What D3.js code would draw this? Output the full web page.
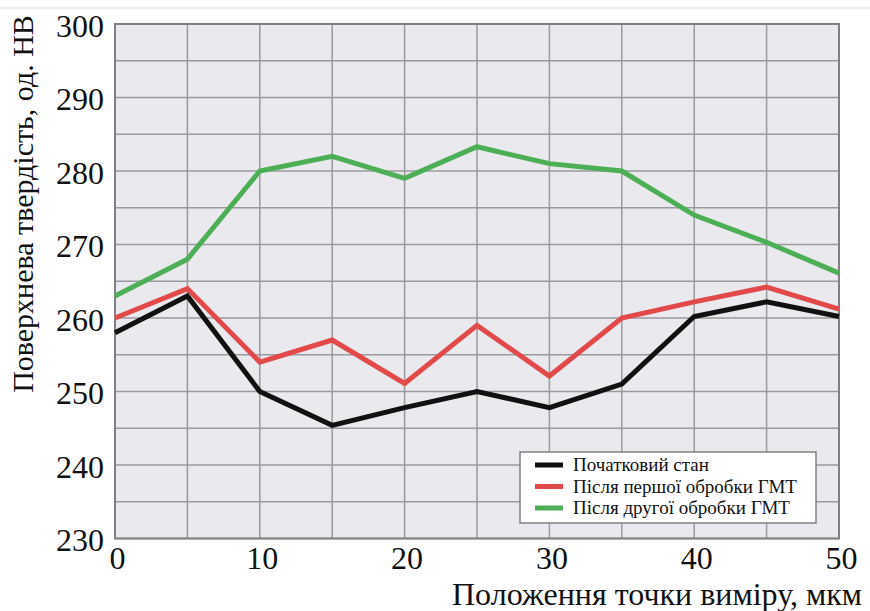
<!DOCTYPE html>
<html><head><meta charset="utf-8">
<script src="https://cdn.jsdelivr.net/npm/d3@7"></script>
<style>body{margin:0;background:#fff;} svg text{font-family:"Liberation Serif","Times New Roman",serif !important;}</style>
</head><body>
<svg id="c" width="870" height="611"></svg>
<script>
const positions = [0,5,10,15,20,25,30,35,40,45,50];
const initial = [258,263,250,245.4,247.8,250,247.8,251,260.2,262.2,260.2];
const afterFirst = [260,264,254,257,251.1,259,252.1,260,262.2,264.2,261.2];
const afterSecond = [263,268,280,282,279,283.3,281,280,274,270.3,266.1];
const seriesNames = ["Початковий стан","Після першої обробки ГМТ","Після другої обробки ГМТ"];
const seriesColors = ["#111111","#e24a4a","#4caf55"];
const xTicks = [0,10,20,30,40,50];
const yTicks = [230,240,250,260,270,280,290,300];

const svg = d3.select("#c");
const L=115, R=839, T=24, B=538.5;
const x = d3.scaleLinear().domain([0,50]).range([L,R]);
const y = d3.scaleLinear().domain([230,300]).range([B,T]);

svg.append("line").attr("x1",0).attr("x2",870).attr("y1",8).attr("y2",8).attr("stroke","#ececec").attr("stroke-width",2);

svg.append("rect").attr("x",L).attr("y",T).attr("width",R-L).attr("height",B-T).attr("fill","#e9e9ee");

const g = svg.append("g");
d3.range(0,51,5).forEach(v=>{
  g.append("line").attr("x1",x(v)).attr("x2",x(v)).attr("y1",T).attr("y2",B).attr("stroke","#9a9a9e").attr("stroke-width",1.5);
});
d3.range(230,301,5).forEach(v=>{
  g.append("line").attr("x1",L).attr("x2",R).attr("y1",y(v)).attr("y2",y(v)).attr("stroke","#9a9a9e").attr("stroke-width",1.5);
});
svg.append("rect").attr("x",L).attr("y",T).attr("width",R-L).attr("height",B-T).attr("fill","none").attr("stroke","#808084").attr("stroke-width",2);

const xAxis = svg.append("g").attr("transform",`translate(2,${B})`)
  .call(d3.axisBottom(x).tickValues(xTicks).tickSize(0).tickPadding(8));
xAxis.select(".domain").remove();
xAxis.selectAll("text").attr("font-size",32).attr("fill","#111");

const yAxis = svg.append("g").attr("transform",`translate(${L},2)`)
  .call(d3.axisLeft(y).tickValues(yTicks).tickSize(0).tickPadding(11));
yAxis.select(".domain").remove();
yAxis.selectAll("text").attr("font-size",32).attr("fill","#111");

const line = d3.line().x((d,i)=>x(positions[i])).y(d=>y(d));
const data = [initial, afterFirst, afterSecond];
[2,1,0].forEach(k=>{
  svg.append("path").datum(data[k]).attr("d",line).attr("fill","none")
    .attr("stroke",seriesColors[k]).attr("stroke-width",5).attr("stroke-linejoin","miter");
});

svg.append("text").attr("x",862).attr("y",605).attr("text-anchor","end").attr("font-size",32).attr("fill","#111")
  .text("Положення точки виміру, мкм");
svg.append("text").attr("transform","translate(33,204) rotate(-90)").attr("text-anchor","middle").attr("font-size",30).attr("fill","#111")
  .text("Поверхнева твердість, од. HB");

const lg = svg.append("g");
lg.append("rect").attr("x",520).attr("y",452).attr("width",296).attr("height",71).attr("fill","#fff").attr("stroke","#808084").attr("stroke-width",1.5);
seriesNames.forEach((n,i)=>{
  const yy = 465 + i*21.5;
  lg.append("line").attr("x1",535).attr("x2",563).attr("y1",yy).attr("y2",yy).attr("stroke",seriesColors[i]).attr("stroke-width",5);
  lg.append("text").attr("x",573).attr("y",yy+6).attr("font-size",19).attr("fill","#111").text(n);
});
</script>
</body></html>
